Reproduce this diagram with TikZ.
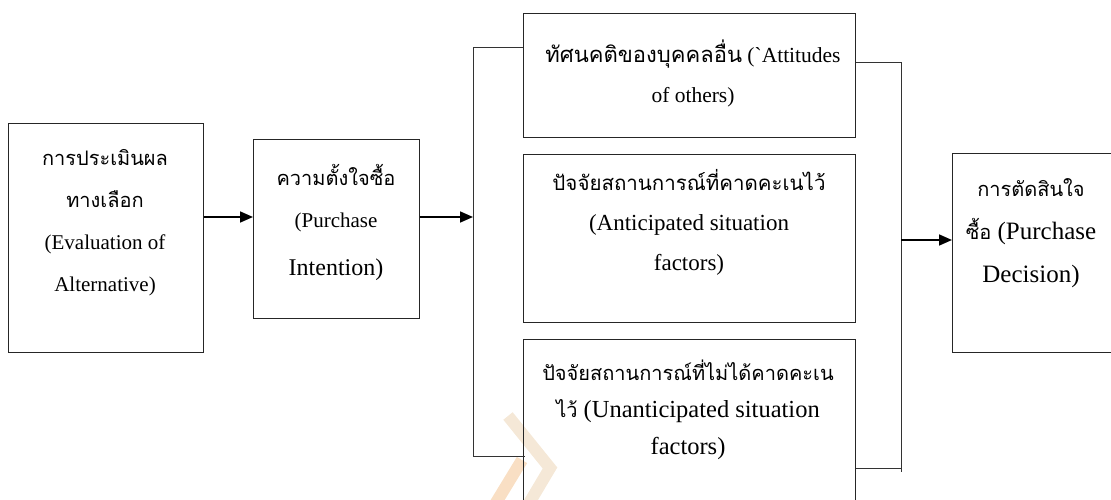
\documentclass[tikz,border=0pt]{standalone}
\usepackage{fontspec}
\setmainfont{Liberation Serif}
\newfontfamily\thf[Script=Thai]{Loma}
\newfontfamily\nolig{Liberation Serif}[Ligatures=TeXOff]
\newcommand{\thsz}[2]{{\fontsize{#1}{#1}\selectfont\thf #2}}
\usetikzlibrary{arrows.meta}
\begin{document}
\begin{tikzpicture}[x=1pt,y=-1pt,
  box/.style={draw=black!85,line width=0.9pt,inner sep=0pt,anchor=north west},
  txt/.style={align=center,inner sep=0pt},
  conn/.style={draw=black!80,line width=0.8pt},
  arr/.style={draw=black,line width=1.6pt,-{Triangle[length=13pt,width=11pt]}},
  wma/.style={line width=12pt,color={rgb,255:red,225;green,190;blue,140},opacity=0.35},
  wmb/.style={line width=12pt,color={rgb,255:red,235;green,150;blue,60},opacity=0.3}]
\useasboundingbox (0,0) rectangle (1111,500);
% faint watermark
\draw[wma] (508,416) -- (550,468) -- (528,505);
\draw[wmb] (522,460) -- (494,506);
% boxes
\node[box,minimum width=195pt,minimum height=229pt] (b1) at (8,123) {};
\node[box,minimum width=166pt,minimum height=179pt] (b2) at (253,139) {};
\node[box,minimum width=332pt,minimum height=124pt] (b3) at (523,13) {};
\node[box,minimum width=332pt,minimum height=168pt] (b4) at (523,154) {};
\node[box,minimum width=332pt,minimum height=170pt] (b5) at (523,339) {};
\node[box,minimum width=162pt,minimum height=199pt] (b6) at (952,153) {};
% texts
\node[txt,font=\fontsize{21}{42}\selectfont] (t1) at (105,223) {\thsz{20}{การประเมินผล}\\\thsz{20}{ทางเลือก}\\(Evaluation of\\Alternative)};
\node[txt,font=\fontsize{21}{42}\selectfont] (t2) at (336,222) {\thsz{20}{ความตั้งใจซื้อ}\\(Purchase\\[6pt]{\fontsize{24}{28}\selectfont Intention)}};
\node[txt,font=\fontsize{21.5}{40}\selectfont] (t3) at (693,73) {\thsz{22}{ทัศนคติของบุคคลอื่น} ({\nolig`}Attitudes\\of others)};
\node[txt,font=\fontsize{23}{40}\selectfont] (t4) at (689,222) {\thsz{20.5}{ปัจจัยสถานการณ์ที่คาดคะเนไว้}\\(Anticipated situation\\factors)};
\node[txt,font=\fontsize{24.5}{37}\selectfont] (t5) at (688,410) {\thsz{20}{ปัจจัยสถานการณ์ที่ไม่ได้คาดคะเน}\\\thsz{20}{ไว้} (Unanticipated situation\\factors)};
\node[txt,font=\fontsize{25}{43}\selectfont] (t6) at (1031,233) {\thsz{20}{การตัดสินใจ}\\\thsz{20}{ซื้อ} (Purchase\\Decision)};
% bracket coordinates
\coordinate (lt) at (473,47);
\coordinate (lj) at (473,217);
\coordinate (lb) at (473,456);
\coordinate (rt) at (901,62);
\coordinate (rj) at (901,240);
\coordinate (rb) at (901,468);
\coordinate (rbe) at (901,472);
% connectors
\draw[arr] (b1.east |- lj) -- (b2.west |- lj);
\draw[arr] (b2.east |- lj) -- (lj);
\draw[conn] (b3.west |- lt) -- (lt) -- (lb) -- ([xshift=2pt]b5.west |- lb);
\draw[conn] (b3.east |- rt) -- (rt) -- (rbe);
\draw[conn] (b5.east |- rb) -- (rb);
\draw[arr] (rj) -- (b6.west |- rj);
\end{tikzpicture}
\end{document}
